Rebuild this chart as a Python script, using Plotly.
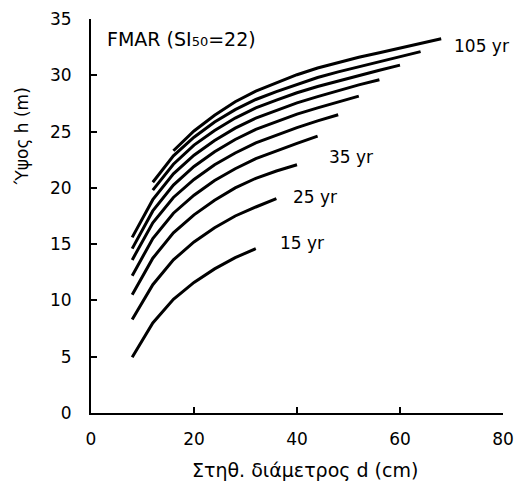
import plotly.graph_objects as go

# Height-diameter curves by stand age (FMAR, SI50 = 22)
ages = [15, 25, 35, 45, 55, 65, 75, 85, 95, 105]

d_15 = [8, 12, 16, 20, 24, 28, 32]
h_15 = [4.95, 8.0, 10.1, 11.6, 12.8, 13.8, 14.6]

d_25 = [8, 12, 16, 20, 24, 28, 32, 36]
h_25 = [8.3, 11.4, 13.6, 15.2, 16.45, 17.5, 18.3, 19.05]

d_35 = [8, 12, 16, 20, 24, 28, 32, 36, 40]
h_35 = [10.5, 13.75, 16.0, 17.6, 18.9, 20.0, 20.85, 21.5, 22.05]

d_45 = [8, 12, 16, 20, 24, 28, 32, 36, 40, 44]
h_45 = [12.2, 15.5, 17.75, 19.35, 20.65, 21.7, 22.6, 23.3, 23.95, 24.6]

d_55 = [8, 12, 16, 20, 24, 28, 32, 36, 40, 44, 48]
h_55 = [13.6, 16.9, 19.15, 20.75, 22.05, 23.1, 24.0, 24.7, 25.35, 25.95, 26.5]

d_65 = [8, 12, 16, 20, 24, 28, 32, 36, 40, 44, 48, 52]
h_65 = [14.6, 17.95, 20.25, 21.9, 23.2, 24.3, 25.2, 25.9, 26.55, 27.1, 27.65, 28.15]

d_75 = [8, 12, 16, 20, 24, 28, 32, 36, 40, 44, 48, 52, 56]
h_75 = [15.6, 18.95, 21.25, 22.9, 24.2, 25.3, 26.2, 26.9, 27.55, 28.1, 28.65, 29.15, 29.6]

d_85 = [12, 16, 20, 24, 28, 32, 36, 40, 44, 48, 52, 56, 60]
h_85 = [19.8, 22.1, 23.8, 25.1, 26.2, 27.1, 27.8, 28.45, 29.0, 29.5, 29.95, 30.45, 30.9]

d_95 = [12, 16, 20, 24, 28, 32, 36, 40, 44, 48, 52, 56, 60, 64]
h_95 = [20.5, 22.85, 24.5, 25.85, 26.95, 27.85, 28.55, 29.2, 29.8, 30.3, 30.75, 31.2, 31.65, 32.1]

d_105 = [16, 20, 24, 28, 32, 36, 40, 44, 48, 52, 56, 60, 64, 68]
h_105 = [23.3, 25.05, 26.45, 27.65, 28.6, 29.35, 30.05, 30.65, 31.15, 31.6, 32.0, 32.4, 32.85, 33.25]

curves = [
    (d_15, h_15), (d_25, h_25), (d_35, h_35), (d_45, h_45), (d_55, h_55),
    (d_65, h_65), (d_75, h_75), (d_85, h_85), (d_95, h_95), (d_105, h_105),
]

# Age labels placed beside selected curves
label_text = ["15 yr", "25 yr", "35 yr", "105 yr"]
label_x = [36.3, 38.8, 45.8, 70.1]
label_y = [15.1, 19.2, 22.75, 32.6]

x_ticks = [0, 20, 40, 60, 80]
y_ticks = [0, 5, 10, 15, 20, 25, 30, 35]

FONT = "DejaVu Sans, Verdana, sans-serif"

fig = go.Figure()
for age, (d, h) in zip(ages, curves):
    fig.add_trace(go.Scatter(
        x=d, y=h, mode="lines", name=f"{age} yr",
        line=dict(color="black", width=3),
        showlegend=False, hoverinfo="skip",
    ))

annotations = []
for t, x, y in zip(label_text, label_x, label_y):
    annotations.append(dict(
        x=x, y=y, xref="x", yref="y", text=t, showarrow=False,
        xanchor="left", yanchor="middle",
        font=dict(family=FONT, size=17, color="black"),
    ))

annotations.append(dict(
    x=0.035, y=0.95, xref="paper", yref="paper",
    text="FMAR (SI<span style='font-size:13px'>50</span>=22)",
    showarrow=False, xanchor="left", yanchor="middle",
    font=dict(family=FONT, size=19, color="black"),
))

# Axis titles
annotations.append(dict(
    x=0.52, y=-0.145, xref="paper", yref="paper",
    text="Στηθ. διάμετρος d (cm)", showarrow=False,
    xanchor="center", yanchor="middle",
    font=dict(family=FONT, size=19, color="black"),
))
annotations.append(dict(
    x=-0.167, y=0.703, xref="paper", yref="paper",
    text="Ύψος h (m)", showarrow=False, textangle=-90,
    xanchor="center", yanchor="middle",
    font=dict(family=FONT, size=17, color="black"),
))

axis_common = dict(
    showgrid=False, zeroline=False, showline=True,
    linecolor="black", linewidth=2,
    ticks="inside", ticklen=6, tickwidth=2, tickcolor="black",
    tickfont=dict(family=FONT, size=17, color="black"),
    mirror=False, automargin=False,
)

fig.update_layout(
    width=515, height=486,
    margin=dict(l=91, r=12, t=19, b=73),
    paper_bgcolor="white", plot_bgcolor="white",
    xaxis=dict(range=[0, 80], tickvals=x_ticks, ticklabelstandoff=10, **axis_common),
    yaxis=dict(range=[0, 35], tickvals=y_ticks, ticklabelstandoff=14, **axis_common),
    annotations=annotations,
)

fig.write_html("out.html")
